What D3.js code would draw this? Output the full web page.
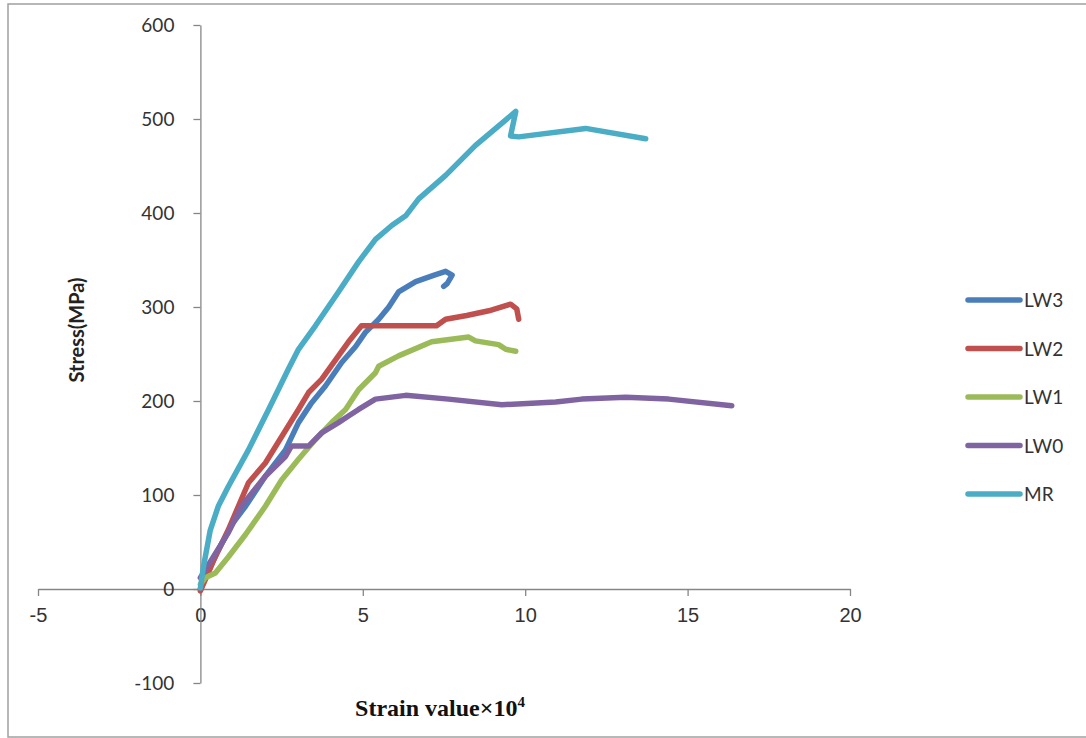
<!DOCTYPE html>
<html>
<head>
<meta charset="utf-8">
<title>Stress - Strain</title>
<script src="https://d3js.org/d3.v7.min.js"></script>
<style>
  body { margin: 0; background: #fff; }
</style>
</head>
<body>
<svg id="chart" width="1086" height="738"></svg>
<script>
// strain (x10^4) , stress (MPa)
var lw3 = [[0,0],[0.5,38],[1,70],[1.39,88],[2,120],[2.62,148],[3.02,177],[3.42,198],[3.85,216],[4.35,241],
  [4.78,258],[5.08,273],[5.49,287],[5.8,300],[6.1,316],[6.63,327],[7.2,334],[7.55,338],[7.75,334],[7.6,325],[7.49,322]];
var lw2 = [[0,-2],[0.4,30],[0.86,63],[1.17,88],[1.48,113],[2,134],[2.5,162],[3.02,191],[3.33,209],[3.73,223],
  [4.25,248],[4.56,263],[4.96,280],[6,280],[7.27,280],[7.55,287],[8.2,291],[8.88,296],[9.55,303],[9.74,298],[9.8,287]];
var lw1 = [[0,5],[0.15,12],[0.46,17],[0.86,34],[1.39,58],[2,88],[2.5,116],[3.02,138],[3.54,159],[4.04,177],
  [4.47,191],[4.87,212],[5.39,230],[5.49,237],[6.1,248],[7.12,263],[8.26,268],[8.47,264],[9.18,260],[9.4,255],[9.71,253]];
var lw0 = [[0,12],[0.34,31],[0.86,60],[1.26,88],[2,120],[2.62,141],[2.8,152],[3.33,152],[3.73,166],[4.25,177],
  [4.56,184],[4.87,191],[5.39,202],[6.32,206],[7.64,202],[9.28,196],[10.94,199],[11.74,202],[13.1,204],
  [14.42,202],[16.36,195]];
var mr = [[0,1],[0.09,23],[0.3,62],[0.55,88],[0.86,109],[1.48,148],[2.1,191],[2.71,234],[3.02,255],[3.54,280],
  [4.25,316],[4.87,348],[5.39,372],[5.9,387],[6.32,397],[6.72,415],[7.55,440],[8.47,472],[9.71,508],[9.55,482],[9.8,481],
  [11.86,490],[13.71,479]];

var seriesNames = ["LW3", "LW2", "LW1", "LW0", "MR"];
var seriesData = [lw3, lw2, lw1, lw0, mr];
var seriesColors = ["#4a7ebb", "#c0504d", "#9bbb59", "#8064a2", "#4bacc6"];
var xTicks = [-5, 0, 5, 10, 15, 20];
var yTicks = [-100, 0, 100, 200, 300, 400, 500, 600];

var svg = d3.select("#chart");

// outer chart border
svg.append("rect")
  .attr("x", 8).attr("y", 4)
  .attr("width", 1100).attr("height", 733)
  .attr("fill", "none")
  .attr("stroke", "#a0a0a0")
  .attr("stroke-width", 1.5);

var x = d3.scaleLinear().domain([-5, 20]).range([38, 850]);
var y = d3.scaleLinear().domain([-100, 600]).range([683, 25]);

// plain hyphen for negatives, like the original
var fmt = function(d) { return String(d); };

// x axis, crossing at y = 0
var xAxis = svg.append("g")
  .attr("transform", "translate(0," + y(0) + ")")
  .call(d3.axisBottom(x).tickValues(xTicks).tickFormat(fmt).tickSize(7).tickPadding(12).tickSizeOuter(0));
xAxis.selectAll("text")
  .style("font-family", "'Liberation Sans', Arial, sans-serif")
  .style("font-size", "20px")
  .attr("fill", "#333");

// y axis, crossing at x = 0
var yAxis = svg.append("g")
  .attr("transform", "translate(" + x(0) + ",0)")
  .call(d3.axisLeft(y).tickValues(yTicks).tickFormat(fmt).tickSize(7).tickPadding(19).tickSizeOuter(0));
yAxis.selectAll("text")
  .style("font-family", "Lato, 'Open Sans', sans-serif")
  .style("font-size", "19px")
  .attr("fill", "#333");

svg.selectAll(".domain, .tick line").attr("stroke", "#868686").attr("stroke-width", 1.3);

// curves
var line = d3.line()
  .x(function(d) { return x(d[0]); })
  .y(function(d) { return y(d[1]); });

seriesData.forEach(function(s, i) {
  svg.append("path")
    .datum(s)
    .attr("d", line)
    .attr("fill", "none")
    .attr("stroke", seriesColors[i])
    .attr("stroke-width", 5.5)
    .attr("stroke-linecap", "round")
    .attr("stroke-linejoin", "round");
});

// axis titles
svg.append("text")
  .attr("transform", "translate(84,330)rotate(-90)")
  .attr("text-anchor", "middle")
  .style("font-family", "Lato, 'Open Sans', sans-serif")
  .style("font-weight", "bold")
  .style("font-size", "20px")
  .attr("fill", "#222")
  .text("Stress(MPa)");

svg.append("text")
  .attr("x", 440).attr("y", 716)
  .attr("text-anchor", "middle")
  .style("font-family", "'Liberation Serif', 'Times New Roman', serif")
  .style("font-weight", "bold")
  .style("font-size", "24px")
  .attr("fill", "#111")
  .html("Strain value×10<tspan dy='-9' font-size='15px'>4</tspan>");

// legend
var legend = svg.append("g");
seriesNames.forEach(function(name, i) {
  var ly = 300 + i * 48.5;
  legend.append("line")
    .attr("x1", 968).attr("x2", 1020)
    .attr("y1", ly).attr("y2", ly)
    .attr("stroke", seriesColors[i])
    .attr("stroke-width", 5.5)
    .attr("stroke-linecap", "round");
  legend.append("text")
    .attr("x", 1024).attr("y", ly + 7)
    .style("font-family", "Lato, 'Open Sans', sans-serif")
    .style("font-size", "19px")
    .attr("fill", "#333")
    .text(name);
});
</script>
</body>
</html>
